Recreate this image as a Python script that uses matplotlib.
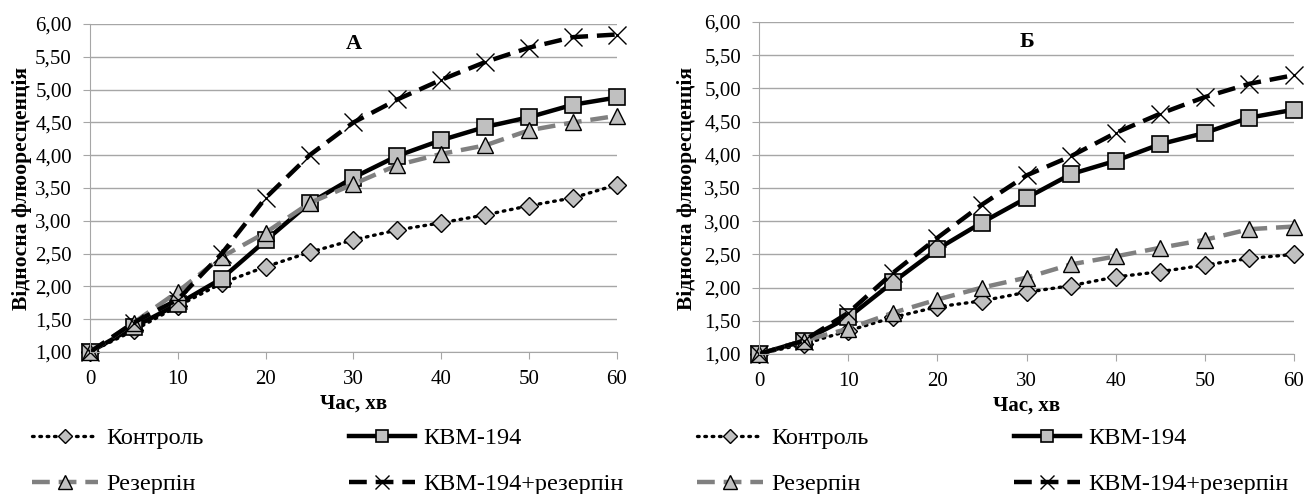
import matplotlib
matplotlib.use('Agg')
import matplotlib.pyplot as plt
import numpy as np

time_min = [0, 5, 10, 15, 20, 25, 30, 35, 40, 45, 50, 55, 60]
labels = ['Контроль', 'КВМ-194', 'Резерпін', 'КВМ-194+резерпін']

# panel А
a_control = [1.00, 1.33, 1.70, 2.05, 2.30, 2.52, 2.71, 2.86, 2.97, 3.09, 3.23, 3.35, 3.55]
a_kvm = [1.00, 1.38, 1.73, 2.12, 2.70, 3.27, 3.66, 3.99, 4.23, 4.43, 4.58, 4.77, 4.88]
a_reserpine = [1.00, 1.45, 1.92, 2.45, 2.82, 3.27, 3.56, 3.85, 4.02, 4.15, 4.38, 4.50, 4.60]
a_kvm_res = [1.00, 1.45, 1.80, 2.50, 3.35, 4.00, 4.50, 4.85, 5.15, 5.42, 5.64, 5.80, 5.84]

# panel Б
b_control = [1.00, 1.15, 1.35, 1.55, 1.71, 1.80, 1.93, 2.03, 2.16, 2.24, 2.34, 2.44, 2.50]
b_kvm = [1.00, 1.20, 1.55, 2.08, 2.58, 2.98, 3.35, 3.71, 3.91, 4.16, 4.33, 4.56, 4.68]
b_reserpine = [1.00, 1.20, 1.38, 1.62, 1.82, 2.00, 2.15, 2.35, 2.47, 2.60, 2.72, 2.88, 2.92]
b_kvm_res = [1.00, 1.20, 1.62, 2.22, 2.75, 3.25, 3.69, 3.98, 4.33, 4.62, 4.87, 5.07, 5.20]

FONT = 'Liberation Serif'
plt.rcParams['font.family'] = FONT
plt.rcParams['font.size'] = 15

fill = '#c0c0c0'
grid_c = '#a6a6a6'
styles = [
    dict(color='black', linestyle=(0, (0.5, 1.7)), dash_capstyle='round', lw=2.4,
         marker='D', ms=9.5, mfc=fill, mec='black', mew=1),
    dict(color='black', linestyle='-', lw=3.2,
         marker='s', ms=11, mfc=fill, mec='black', mew=1.2),
    dict(color='#808080', linestyle=(0, (4, 2)), lw=3.2,
         marker='^', ms=12, mfc=fill, mec='black', mew=1),
    dict(color='black', linestyle=(0, (4, 2)), lw=3.2,
         marker='x', ms=13, mfc='black', mec='black', mew=1),
]


def draw_panel(ax, series, letter, ylab_pad, leg_anchor, col_space):
    lines = []
    for vals, st, lab in zip(series, styles, labels):
        ln, = ax.plot(time_min, vals, label=lab, clip_on=False, **st)
        lines.append(ln)
    ax.set_xlim(0, 60)
    ax.set_ylim(1, 6)
    yt = np.arange(1, 6.01, 0.5)
    ax.set_xticks(np.arange(0, 61, 10))
    ax.set_yticks(yt)
    ax.set_yticklabels([('%.2f' % v).replace('.', ',') for v in yt])
    ax.yaxis.grid(True, color=grid_c, lw=1)
    ax.set_axisbelow(True)
    for s in ['top', 'right']:
        ax.spines[s].set_visible(False)
    for s in ['left', 'bottom']:
        ax.spines[s].set_color(grid_c)
    ax.tick_params(axis='y', length=5, color=grid_c, pad=8)
    ax.tick_params(axis='x', length=5, color=grid_c, pad=8)
    ax.set_xlabel('Час, хв', fontweight='bold', labelpad=3)
    ax.set_ylabel('Відносна флюоресценція', fontweight='bold', fontsize=15.5,
                  labelpad=ylab_pad)
    ax.text(30, 5.7, letter, fontweight='bold', fontsize=16,
            ha='center', va='center')
    order = [lines[0], lines[2], lines[1], lines[3]]
    ax.legend(order, [l.get_label() for l in order], ncol=2, frameon=False,
              loc='upper left', bbox_to_anchor=leg_anchor, borderpad=0,
              borderaxespad=0, handlelength=2.7, handletextpad=0.35,
              columnspacing=col_space, labelspacing=0.99, markerscale=0.8,
              fontsize=17.5)


fig = plt.figure(figsize=(13.06, 4.94), dpi=100)
ax1 = fig.add_axes([0.0689, 0.2874, 0.4035, 0.664])
ax2 = fig.add_axes([0.5812, 0.2834, 0.4096, 0.672])

draw_panel(ax1, [a_control, a_kvm, a_reserpine, a_kvm_res], 'А', 2,
           (-0.110, -0.229), 6.0)
draw_panel(ax2, [b_control, b_kvm, b_reserpine, b_kvm_res], 'Б', 5,
           (-0.116, -0.220), 6.0)

plt.savefig('out.png', dpi=100)
